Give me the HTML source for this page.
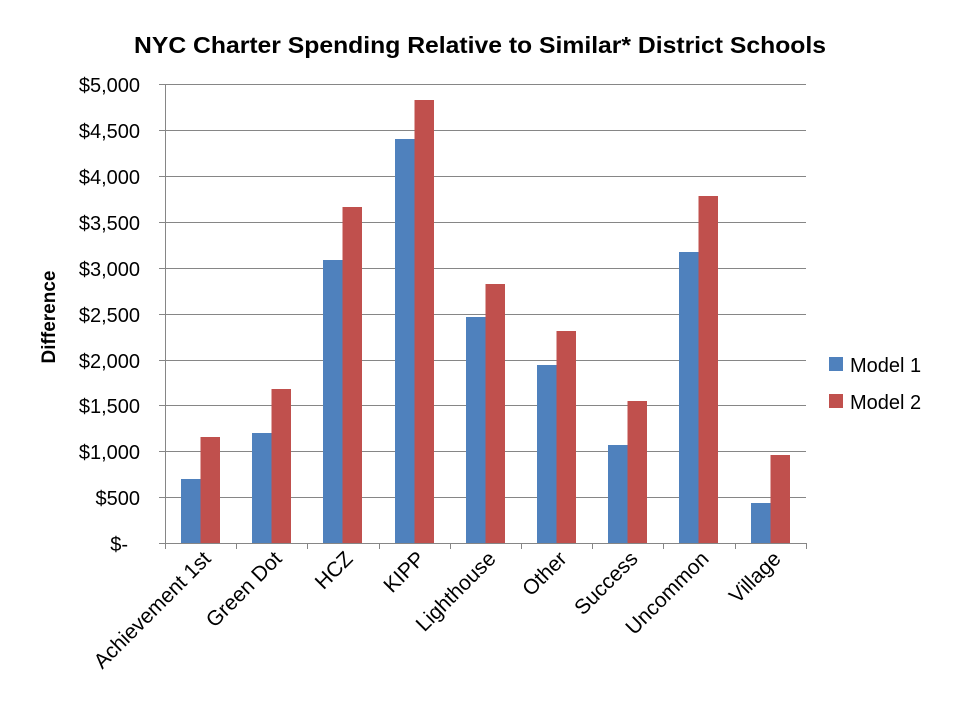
<!DOCTYPE html>
<html><head><meta charset="utf-8"><style>
body{margin:0;background:#fff;}
svg{display:block;font-family:"Liberation Sans",Arial,sans-serif;}
</style></head><body>
<svg width="960" height="720" viewBox="0 0 960 720" xmlns="http://www.w3.org/2000/svg">
<rect width="960" height="720" fill="#fff"/>
<text x="480" y="53" text-anchor="middle" font-size="23" font-weight="bold" fill="#000" textLength="692" lengthAdjust="spacingAndGlyphs">NYC Charter Spending Relative to Similar* District Schools</text>
<g stroke="#868686" stroke-width="1">
<line x1="165" y1="84.5" x2="806" y2="84.5"/>
<line x1="165" y1="130.5" x2="806" y2="130.5"/>
<line x1="165" y1="176.5" x2="806" y2="176.5"/>
<line x1="165" y1="222.5" x2="806" y2="222.5"/>
<line x1="165" y1="268.5" x2="806" y2="268.5"/>
<line x1="165" y1="314.5" x2="806" y2="314.5"/>
<line x1="165" y1="360.5" x2="806" y2="360.5"/>
<line x1="165" y1="405.5" x2="806" y2="405.5"/>
<line x1="165" y1="451.5" x2="806" y2="451.5"/>
<line x1="165" y1="497.5" x2="806" y2="497.5"/>
<line x1="165.5" y1="84" x2="165.5" y2="543"/>
</g>
<g fill="#4F81BD">
<rect x="181" y="479" width="19.5" height="64"/>
<rect x="252" y="433" width="19.5" height="110"/>
<rect x="323" y="260" width="19.5" height="283"/>
<rect x="395" y="139" width="19.5" height="404"/>
<rect x="466" y="317" width="19.5" height="226"/>
<rect x="537" y="365" width="19.5" height="178"/>
<rect x="608" y="445" width="19.5" height="98"/>
<rect x="679" y="252" width="19.5" height="291"/>
<rect x="751" y="503" width="19.5" height="40"/>
</g>
<g fill="#C0504D">
<rect x="200.5" y="437" width="19.5" height="106"/>
<rect x="271.5" y="389" width="19.5" height="154"/>
<rect x="342.5" y="207" width="19.5" height="336"/>
<rect x="414.5" y="100" width="19.5" height="443"/>
<rect x="485.5" y="284" width="19.5" height="259"/>
<rect x="556.5" y="331" width="19.5" height="212"/>
<rect x="627.5" y="401" width="19.5" height="142"/>
<rect x="698.5" y="196" width="19.5" height="347"/>
<rect x="770.5" y="455" width="19.5" height="88"/>
</g>
<g stroke="#868686" stroke-width="1">
<line x1="165" y1="543.5" x2="806" y2="543.5"/>
<line x1="165.5" y1="543" x2="165.5" y2="549"/>
<line x1="236.5" y1="543" x2="236.5" y2="549"/>
<line x1="307.5" y1="543" x2="307.5" y2="549"/>
<line x1="379.5" y1="543" x2="379.5" y2="549"/>
<line x1="450.5" y1="543" x2="450.5" y2="549"/>
<line x1="521.5" y1="543" x2="521.5" y2="549"/>
<line x1="592.5" y1="543" x2="592.5" y2="549"/>
<line x1="663.5" y1="543" x2="663.5" y2="549"/>
<line x1="735.5" y1="543" x2="735.5" y2="549"/>
<line x1="806.5" y1="543" x2="806.5" y2="549"/>
<line x1="159" y1="84.5" x2="165" y2="84.5"/><line x1="159" y1="130.5" x2="165" y2="130.5"/>
<line x1="159" y1="176.5" x2="165" y2="176.5"/><line x1="159" y1="222.5" x2="165" y2="222.5"/>
<line x1="159" y1="268.5" x2="165" y2="268.5"/><line x1="159" y1="314.5" x2="165" y2="314.5"/>
<line x1="159" y1="360.5" x2="165" y2="360.5"/><line x1="159" y1="405.5" x2="165" y2="405.5"/>
<line x1="159" y1="451.5" x2="165" y2="451.5"/><line x1="159" y1="497.5" x2="165" y2="497.5"/>
<line x1="159" y1="543.5" x2="165" y2="543.5"/>
</g>
<g font-size="20" fill="#000" text-anchor="end">
<text x="140" y="92">$5,000</text>
<text x="140" y="138">$4,500</text>
<text x="140" y="184">$4,000</text>
<text x="140" y="230">$3,500</text>
<text x="140" y="276">$3,000</text>
<text x="140" y="322">$2,500</text>
<text x="140" y="368">$2,000</text>
<text x="140" y="413">$1,500</text>
<text x="140" y="459">$1,000</text>
<text x="140" y="505">$500</text>
<text x="128" y="551">$-</text>
</g>
<text transform="translate(55,317) rotate(-90)" text-anchor="middle" font-size="19" font-weight="bold">Difference</text>
<g font-size="21" fill="#000" text-anchor="end">
<text transform="translate(212,560) rotate(-45)">Achievement 1st</text>
<text transform="translate(283,560) rotate(-45)">Green Dot</text>
<text transform="translate(354,560) rotate(-45)">HCZ</text>
<text transform="translate(426,560) rotate(-45)">KIPP</text>
<text transform="translate(497,560) rotate(-45)">Lighthouse</text>
<text transform="translate(568,560) rotate(-45)">Other</text>
<text transform="translate(639,560) rotate(-45)">Success</text>
<text transform="translate(710,560) rotate(-45)">Uncommon</text>
<text transform="translate(782,560) rotate(-45)">Village</text>
</g>
<rect x="829" y="357" width="14" height="14" fill="#4F81BD"/>
<rect x="829" y="394" width="14" height="14" fill="#C0504D"/>
<text x="850" y="372" font-size="20">Model 1</text>
<text x="850" y="409" font-size="20">Model 2</text>
</svg>
</body></html>
